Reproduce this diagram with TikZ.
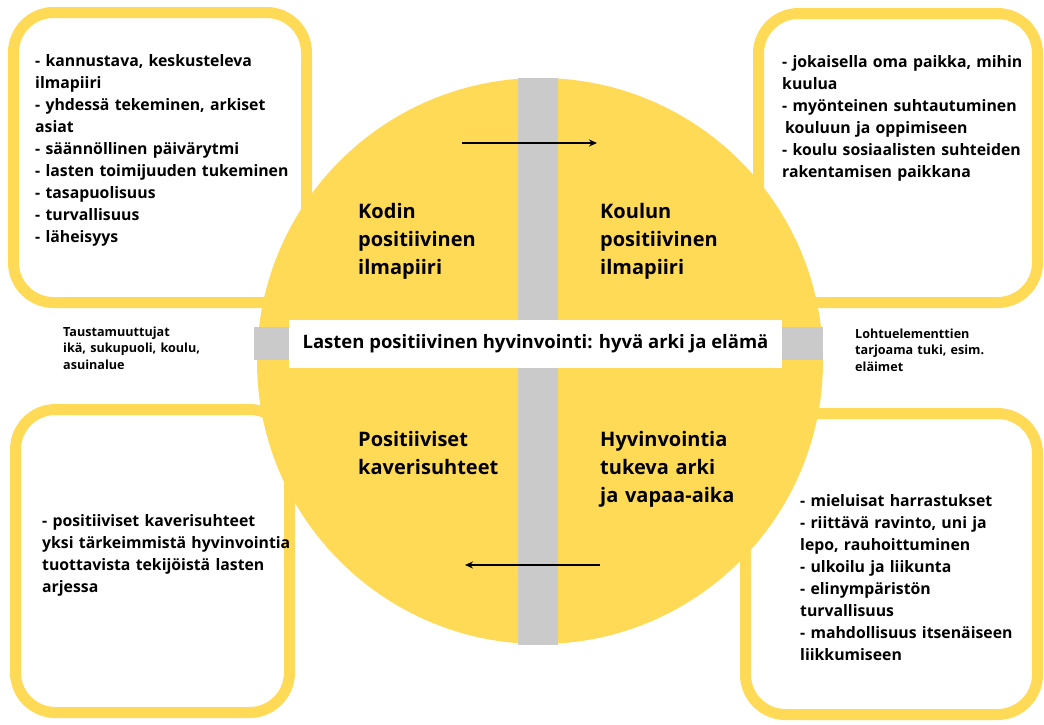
\documentclass[tikz,border=0pt]{standalone}
\usepackage{fontspec}
\setmainfont{Open Sans}
\usetikzlibrary{arrows.meta}
\definecolor{ylw}{HTML}{FFDA57}
\definecolor{gry}{HTML}{CACACA}
\tikzset{
  panel/.style={draw=ylw, line width=11pt, fill=white, rounded corners=40pt},
  listtext/.style={anchor=base west, inner sep=0pt, align=left, text width=#1,
    font=\bfseries\fontsize{15.8}{22}\selectfont, text=black},
  sidetext/.style={anchor=base west, inner sep=0pt, align=left, text width=170pt,
    font=\bfseries\fontsize{12.6}{16.5}\selectfont, text=black},
  quadtext/.style={anchor=base west, inner sep=0pt, align=left, text width=180pt,
    font=\bfseries\fontsize{20}{28}\selectfont, text=black},
  flow/.style={-{Stealth[length=8pt,width=7pt]}, line width=2pt, black}
}
\begin{document}
\begin{tikzpicture}[x=1pt,y=-1pt]
\useasboundingbox (0,0) rectangle (1044,724);
\fill[white] (0,0) rectangle (1044,724);
% panels
\draw[panel] (13.5,12.5) rectangle (306.5,302.5);
\draw[panel] (758.5,13.5) rectangle (1037.5,302.5);
\draw[panel] (15.5,409.5) rectangle (289.5,712.5);
\draw[panel] (745.5,413.5) rectangle (1037.5,714.5);
% circle
\node[circle, fill=ylw, minimum size=566pt, inner sep=0pt] (circ) at (540,361) {};
% gray bars
\fill[gry] (518,78) rectangle (558,645);
\fill[gry] (254,327) rectangle (823,360);
% central title
\node[fill=white, minimum width=493pt, minimum height=48pt, inner sep=0pt,
      font=\bfseries\fontsize{18.5}{22}\selectfont, text=black] (title) at (535.5,344) {Lasten positiivinen hyvinvointi: hyvä arki ja elämä};
% quadrant labels
\node[quadtext] (kodin) at (358,218) {Kodin\\positiivinen\\ilmapiiri};
\node[quadtext] (koulun) at (600,218) {Koulun\\positiivinen\\ilmapiiri};
\node[quadtext] (kaveri) at (358,446) {Positiiviset\\kaverisuhteet};
\node[quadtext] (arki) at (600,446) {Hyvinvointia\\tukeva arki\\ja vapaa-aika};
% arrows
\coordinate (a1) at (462,143);
\coordinate (a2) at (597,143);
\coordinate (b1) at (600,565);
\coordinate (b2) at (465,565);
\draw[flow] (a1) -- (a2);
\draw[flow] (b1) -- (b2);
% list texts
\node[listtext=265pt] (tl) at (35,66) {- kannustava, keskusteleva\\ilmapiiri\\- yhdessä tekeminen, arkiset\\asiat\\- säännöllinen päivärytmi\\- lasten toimijuuden tukeminen\\- tasapuolisuus\\- turvallisuus\\- läheisyys};
\node[listtext=255pt] (tr) at (782,67) {- jokaisella oma paikka, mihin\\kuulua\\- myönteinen suhtautuminen\\\hspace*{3pt}kouluun ja oppimiseen\\- koulu sosiaalisten suhteiden\\rakentamisen paikkana};
\node[listtext=280pt] (bl) at (42,526) {- positiiviset kaverisuhteet\\yksi tärkeimmistä hyvinvointia\\tuottavista tekijöistä lasten\\arjessa};
\node[listtext=240pt] (br) at (800,506) {- mieluisat harrastukset\\- riittävä ravinto, uni ja\\lepo, rauhoittuminen\\- ulkoilu ja liikunta\\- elinympäristön\\turvallisuus\\- mahdollisuus itsenäiseen\\liikkumiseen};
% side labels
\node[sidetext] (tausta) at (63,336) {Taustamuuttujat\\ikä, sukupuoli, koulu,\\asuinalue};
\node[sidetext] (lohtu) at (855,338) {Lohtuelementtien\\tarjoama tuki, esim.\\eläimet};
\end{tikzpicture}
\end{document}
